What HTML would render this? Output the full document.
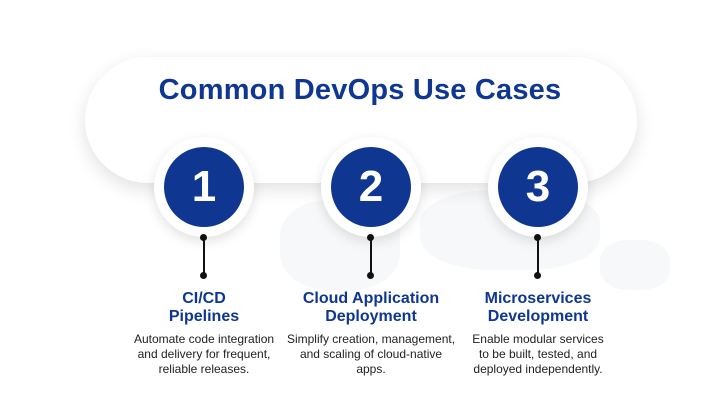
<!DOCTYPE html>
<html><head><style>
body{margin:0;width:720px;height:411px;background:#fff;position:relative;overflow:hidden;font-family:"Liberation Sans",sans-serif}
.pill{position:absolute;left:85px;top:57px;width:552px;height:126px;border-radius:63px;background:#fff;box-shadow:0 6px 18px rgba(0,0,0,.12)}
.title{position:absolute;left:0;width:720px;top:74px;text-align:center;font-size:29px;font-weight:bold;color:#0f3791;letter-spacing:0.2px}
.c{position:absolute;width:100px;height:100px;border-radius:50%;background:#fff;box-shadow:0 4px 12px rgba(0,0,0,.12)}
.c div{position:absolute;left:10px;top:10px;width:80px;height:80px;border-radius:50%;background:#0f3791;color:#fff;font-weight:bold;font-size:44px;line-height:80px;text-align:center}
.line{position:absolute;width:2px;height:38px;background:#111;top:237px}
.dot{position:absolute;width:7px;height:7px;border-radius:50%;background:#111}
.h{position:absolute;top:290px;width:200px;text-align:center;font-size:16px;font-weight:bold;color:#0f3791;line-height:18px}
.p{position:absolute;top:332px;width:200px;text-align:center;font-size:12px;color:#222;line-height:15px}
.map{position:absolute;background:#f7f8f9;border-radius:40%}
</style></head><body>
<div class="map" style="left:280px;top:200px;width:120px;height:90px"></div>
<div class="map" style="left:420px;top:190px;width:180px;height:80px"></div>
<div class="map" style="left:600px;top:240px;width:70px;height:50px"></div>
<div class="pill"></div>
<div class="title">Common DevOps Use Cases</div>
<div class="c" style="left:154px;top:137px"><div>1</div></div>
<div class="c" style="left:321px;top:137px"><div>2</div></div>
<div class="c" style="left:488px;top:137px"><div>3</div></div>
<div class="line" style="left:203px"></div><div class="dot" style="left:200px;top:234px"></div><div class="dot" style="left:200px;top:272px"></div>
<div class="line" style="left:370px"></div><div class="dot" style="left:367px;top:234px"></div><div class="dot" style="left:367px;top:272px"></div>
<div class="line" style="left:537px"></div><div class="dot" style="left:534px;top:234px"></div><div class="dot" style="left:534px;top:272px"></div>
<div class="h" style="left:104px">CI/CD<br>Pipelines</div>
<div class="h" style="left:271px">Cloud Application<br>Deployment</div>
<div class="h" style="left:438px">Microservices<br>Development</div>
<div class="p" style="left:104px">Automate code integration<br>and delivery for frequent,<br>reliable releases.</div>
<div class="p" style="left:271px">Simplify creation, management,<br>and scaling of cloud-native<br>apps.</div>
<div class="p" style="left:438px">Enable modular services<br>to be built, tested, and<br>deployed independently.</div>
</body></html>
